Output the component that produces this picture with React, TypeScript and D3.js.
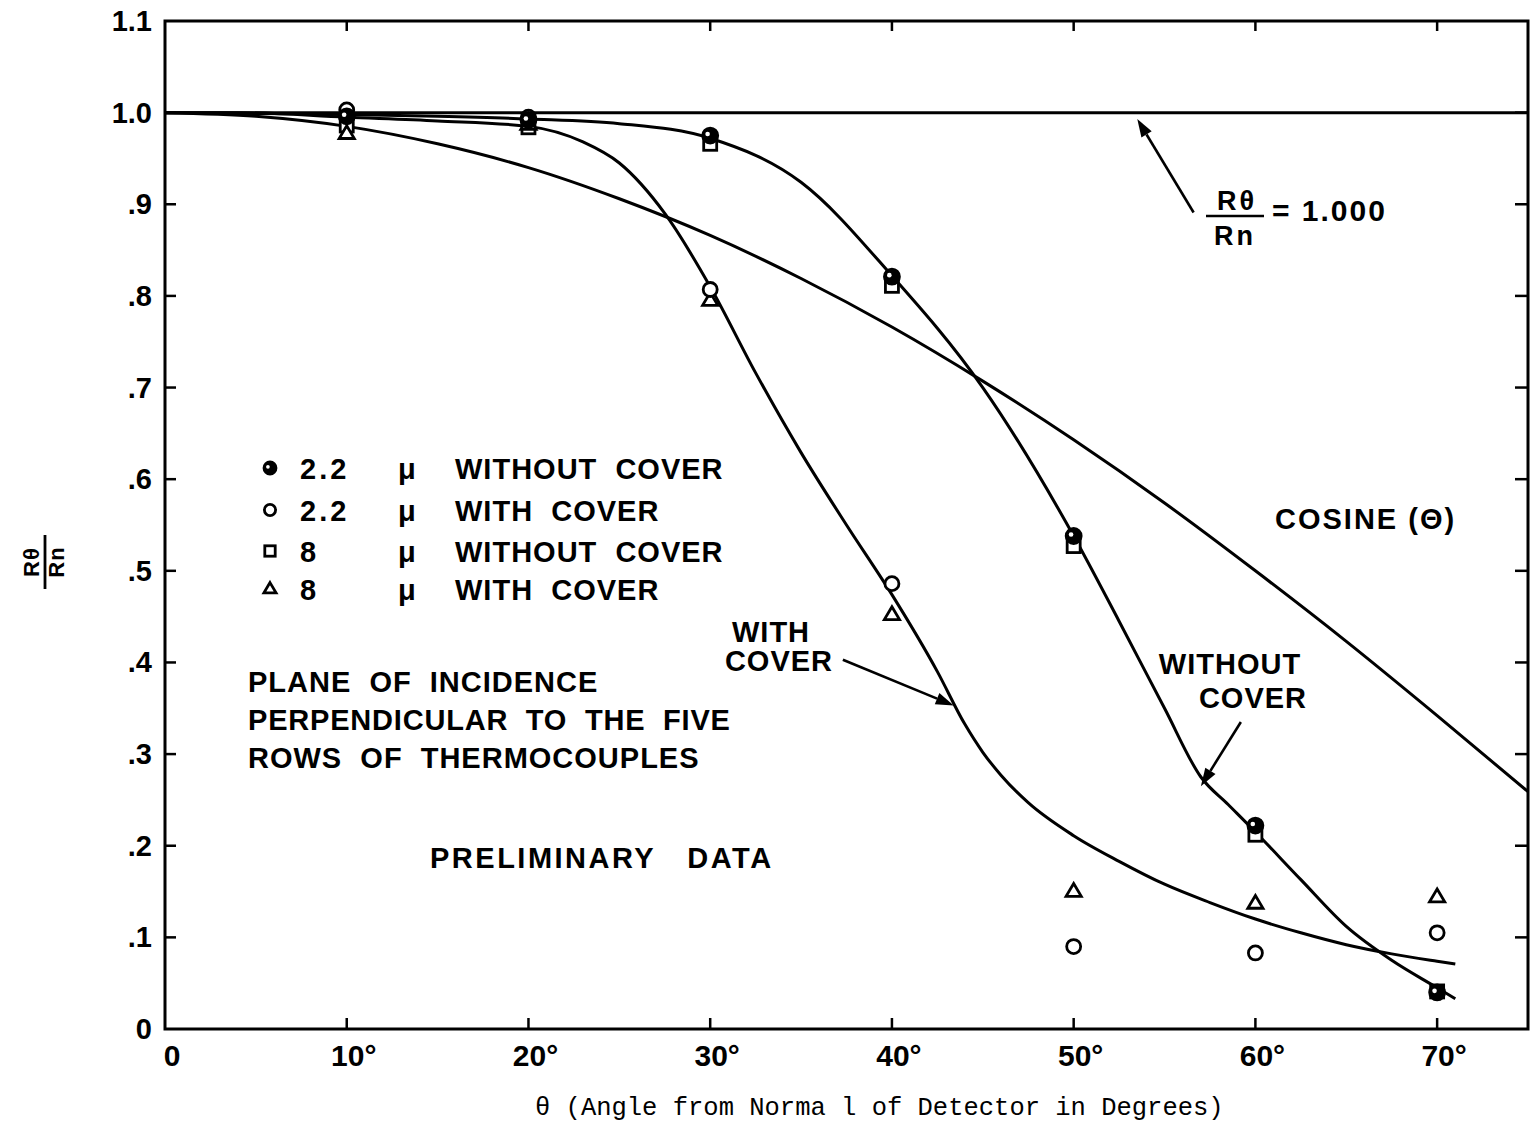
import React from 'react';
import * as d3 from 'd3';

// ---------- data ----------
const angles = [10, 20, 30, 40, 50, 60, 70];
const s22NoCover = [0.996, 0.992, 0.975, 0.821, 0.538, 0.222, 0.040];
const s22Cover = [1.003, 0.995, 0.807, 0.486, 0.090, 0.083, 0.105];
const s8NoCover = [0.986, 0.984, 0.966, 0.811, 0.527, 0.212, 0.041];
const s8Cover = [0.977, 0.987, 0.795, 0.452, 0.150, 0.137, 0.144];

// smooth curves as drawn (angle, ratio)
const cosineCurve: [number, number][] = [
  [0, 1.0], [5, 0.996], [10, 0.985], [15, 0.966], [20, 0.94], [25, 0.906], [30, 0.866],
  [35, 0.819], [40, 0.766], [45, 0.707], [50, 0.643], [55, 0.574], [60, 0.5],
  [65, 0.423], [70, 0.342], [75, 0.259],
];
const withoutCoverCurve: [number, number][] = [
  [0, 1.0], [5, 0.999], [10, 0.998], [15, 0.996], [20, 0.993], [25, 0.988], [30, 0.972],
  [35, 0.924], [40, 0.822], [45, 0.70], [50, 0.538], [52.5, 0.445], [55, 0.35],
  [57, 0.275], [58.5, 0.245], [60, 0.215], [62.5, 0.163], [65, 0.112], [67.5, 0.075],
  [70, 0.045], [71, 0.033],
];
const withCoverCurve: [number, number][] = [
  [0, 1.0], [4, 1.0], [10, 0.995], [15, 0.991], [20, 0.985], [23, 0.968], [25, 0.945],
  [27.5, 0.89], [30, 0.81], [32.5, 0.716], [35, 0.629], [37.5, 0.55], [40, 0.474],
  [42.5, 0.39], [44, 0.333], [45, 0.302], [46, 0.277], [47.5, 0.247], [50, 0.211],
  [52.5, 0.183], [55, 0.158], [57.5, 0.138], [60, 0.12], [62.5, 0.105], [65, 0.092],
  [67.5, 0.082], [70, 0.074], [71, 0.071],
];

const xTickValues = [0, 10, 20, 30, 40, 50, 60, 70];
const xTickLabels = ['0', '10°', '20°', '30°', '40°', '50°', '60°', '70°'];
const yTickValues = [0, 0.1, 0.2, 0.3, 0.4, 0.5, 0.6, 0.7, 0.8, 0.9, 1.0, 1.1];
const yTickLabels = ['0', '.1', '.2', '.3', '.4', '.5', '.6', '.7', '.8', '.9', '1.0', '1.1'];

const legendSizes = ['2.2', '2.2', '8', '8'];
const legendTexts = ['WITHOUT  COVER', 'WITH  COVER', 'WITHOUT  COVER', 'WITH  COVER'];
const legendKinds = ['half', 'circle', 'square', 'triangle'];

const W = 1531;
const H = 1127;
const LET = '"Liberation Sans", Arial, sans-serif';

const x = d3.scaleLinear().domain([0, 75]).range([165, 1528]);
const y = d3.scaleLinear().domain([0, 1.1]).range([1029, 21]);

const line = d3
  .line<[number, number]>()
  .x((d) => x(d[0]))
  .y((d) => y(d[1]))
  .curve(d3.curveMonotoneX);

function Marker({ kind, cx, cy, s = 1 }: { kind: string; cx: number; cy: number; s?: number }) {
  const sw = 2.8;
  if (kind === 'circle') {
    return <circle cx={cx} cy={cy} r={7 * s} fill="#fff" stroke="#000" strokeWidth={sw} />;
  }
  if (kind === 'half') {
    return (
      <g>
        <circle cx={cx} cy={cy} r={7.5 * s} fill="#000" stroke="#000" strokeWidth={sw} />
        <circle cx={cx - 2.6 * s} cy={cy - 1.5 * s} r={2.3 * s} fill="#fff" />
      </g>
    );
  }
  if (kind === 'square') {
    const h = 6.5 * s;
    return <rect x={cx - h} y={cy - h} width={2 * h} height={2 * h} fill="#fff" stroke="#000" strokeWidth={sw} />;
  }
  const r = 8 * s;
  const pts = [
    [cx, cy - r],
    [cx + r * 0.95, cy + r * 0.6],
    [cx - r * 0.95, cy + r * 0.6],
  ]
    .map((p) => p.join(','))
    .join(' ');
  return <polygon points={pts} fill="#fff" stroke="#000" strokeWidth={sw} strokeLinejoin="miter" />;
}

function Arrow({ x1, y1, x2, y2 }: { x1: number; y1: number; x2: number; y2: number }) {
  const ang = Math.atan2(y2 - y1, x2 - x1);
  const L = 18;
  const Wd = 6;
  const bx = x2 - L * Math.cos(ang);
  const by = y2 - L * Math.sin(ang);
  const px = -Math.sin(ang) * Wd;
  const py = Math.cos(ang) * Wd;
  return (
    <g>
      <line x1={x1} y1={y1} x2={bx} y2={by} stroke="#000" strokeWidth={2.6} />
      <polygon points={`${x2},${y2} ${bx + px},${by + py} ${bx - px},${by - py}`} fill="#000" />
    </g>
  );
}

export default function App() {
  const left = x(0);
  const right = x(75);
  const top = y(1.1);
  const bottom = y(0);

  const series = [
    { kind: 'square', vals: s8NoCover },
    { kind: 'triangle', vals: s8Cover },
    { kind: 'circle', vals: s22Cover },
    { kind: 'half', vals: s22NoCover },
  ];

  const bold = { fontFamily: LET, fontWeight: 700 as const, fontSize: 29, whiteSpace: 'pre' as const };

  return (
    <svg
      width={W}
      height={H}
      viewBox={`0 0 ${W} ${H}`}
      style={{ position: 'absolute', left: 0, top: 0, background: '#fff', display: 'block' }}
    >
      <rect x={0} y={0} width={W} height={H} fill="#fff" />

      {/* frame */}
      <rect x={left} y={top} width={right - left} height={bottom - top} fill="none" stroke="#000" strokeWidth={3} />
      {/* reference line R/Rn = 1 */}
      <line x1={left} x2={right} y1={y(1)} y2={y(1)} stroke="#000" strokeWidth={3} />

      {/* ticks */}
      {xTickValues.slice(1).map((v) => (
        <g key={'xt' + v}>
          <line x1={x(v)} x2={x(v)} y1={bottom} y2={bottom - 11} stroke="#000" strokeWidth={2.5} />
          <line x1={x(v)} x2={x(v)} y1={top} y2={top + 10} stroke="#000" strokeWidth={2.5} />
        </g>
      ))}
      {yTickValues.slice(1, -1).map((v) => (
        <g key={'yt' + v}>
          <line x1={left} x2={left + 11} y1={y(v)} y2={y(v)} stroke="#000" strokeWidth={2.5} />
          <line x1={right} x2={right - 13} y1={y(v)} y2={y(v)} stroke="#000" strokeWidth={2.5} />
        </g>
      ))}

      {/* tick labels */}
      {yTickValues.map((v, i) => (
        <text key={'yl' + v} x={left - 13} y={y(v) + 10} textAnchor="end" style={{ ...bold, fontSize: 29 }}>
          {yTickLabels[i]}
        </text>
      ))}
      {xTickValues.map((v, i) => (
        <text key={'xl' + v} x={x(v) + 7} y={bottom + 37} textAnchor="middle" style={{ ...bold, fontSize: 30 }}>
          {xTickLabels[i]}
        </text>
      ))}

      {/* axis titles */}
      <text
        x={535}
        y={1115}
        style={{ fontFamily: '"Liberation Mono", "Courier New", monospace', fontSize: 25.5, whiteSpace: 'pre' }}
      >
        {'θ (Angle from Norma l of Detector in Degrees)'}
      </text>
      <g transform="translate(45,562) rotate(-90)">
        <text x={0} y={-6} textAnchor="middle" style={{ ...bold, fontSize: 22, letterSpacing: 1 }}>
          Rθ
        </text>
        <line x1={-27} x2={27} y1={0} y2={0} stroke="#000" strokeWidth={2.8} />
        <text x={0} y={19} textAnchor="middle" style={{ ...bold, fontSize: 22, letterSpacing: 1 }}>
          Rn
        </text>
      </g>

      {/* curves */}
      <path d={line(cosineCurve) || ''} fill="none" stroke="#000" strokeWidth={3} />
      <path d={line(withoutCoverCurve) || ''} fill="none" stroke="#000" strokeWidth={3} />
      <path d={line(withCoverCurve) || ''} fill="none" stroke="#000" strokeWidth={3} />

      {/* data points */}
      {series.map((s) =>
        angles.map((a, i) => <Marker key={s.kind + a} kind={s.kind} cx={x(a)} cy={y(s.vals[i])} />)
      )}

      {/* legend */}
      {legendKinds.map((k, i) => {
        const cy = [468, 510, 551, 589][i];
        return (
          <g key={'lg' + i}>
            <Marker kind={k} cx={270} cy={cy} s={0.8} />
            <text x={300} y={cy + 11} style={{ ...bold, letterSpacing: 3 }}>
              {legendSizes[i]}
            </text>
            <text x={398} y={cy + 11} style={bold}>
              μ
            </text>
            <text x={455} y={cy + 11} style={{ ...bold, letterSpacing: 1 }}>
              {legendTexts[i]}
            </text>
          </g>
        );
      })}

      {/* notes */}
      <text x={248} y={692} style={{ ...bold, letterSpacing: 1 }}>
        {'PLANE  OF  INCIDENCE'}
      </text>
      <text x={248} y={730} style={{ ...bold, letterSpacing: 0.8 }}>
        {'PERPENDICULAR  TO  THE  FIVE'}
      </text>
      <text x={248} y={768} style={{ ...bold, letterSpacing: 1 }}>
        {'ROWS  OF  THERMOCOUPLES'}
      </text>
      <text x={430} y={868} style={{ ...bold, letterSpacing: 2.5 }}>
        {'PRELIMINARY   DATA'}
      </text>
      <text x={1275} y={529} style={{ ...bold, letterSpacing: 2 }}>
        {'COSINE (Θ)'}
      </text>

      {/* with cover annotation */}
      <text x={771} y={642} textAnchor="middle" style={{ ...bold, letterSpacing: 1 }}>
        WITH
      </text>
      <text x={779} y={671} textAnchor="middle" style={{ ...bold, letterSpacing: 1 }}>
        COVER
      </text>
      <Arrow x1={x(37.3)} y1={y(0.403)} x2={x(43.4)} y2={y(0.353)} />

      {/* without cover annotation */}
      <text x={1230} y={674} textAnchor="middle" style={{ ...bold, letterSpacing: 1 }}>
        WITHOUT
      </text>
      <text x={1253} y={708} textAnchor="middle" style={{ ...bold, letterSpacing: 1 }}>
        COVER
      </text>
      <Arrow x1={x(59.2)} y1={y(0.335)} x2={x(57.0)} y2={y(0.265)} />

      {/* R/Rn = 1.000 annotation */}
      <text x={1237} y={210} textAnchor="middle" style={{ ...bold, fontSize: 27, letterSpacing: 3 }}>
        Rθ
      </text>
      <line x1={1206} x2={1264} y1={216} y2={216} stroke="#000" strokeWidth={2.5} />
      <text x={1235} y={245} textAnchor="middle" style={{ ...bold, fontSize: 27, letterSpacing: 3 }}>
        Rn
      </text>
      <text x={1272} y={221} style={{ ...bold, fontSize: 30, letterSpacing: 2 }}>
        {'= 1.000'}
      </text>
      <Arrow x1={x(56.6)} y1={y(0.891)} x2={x(53.5)} y2={y(0.993)} />
    </svg>
  );
}
